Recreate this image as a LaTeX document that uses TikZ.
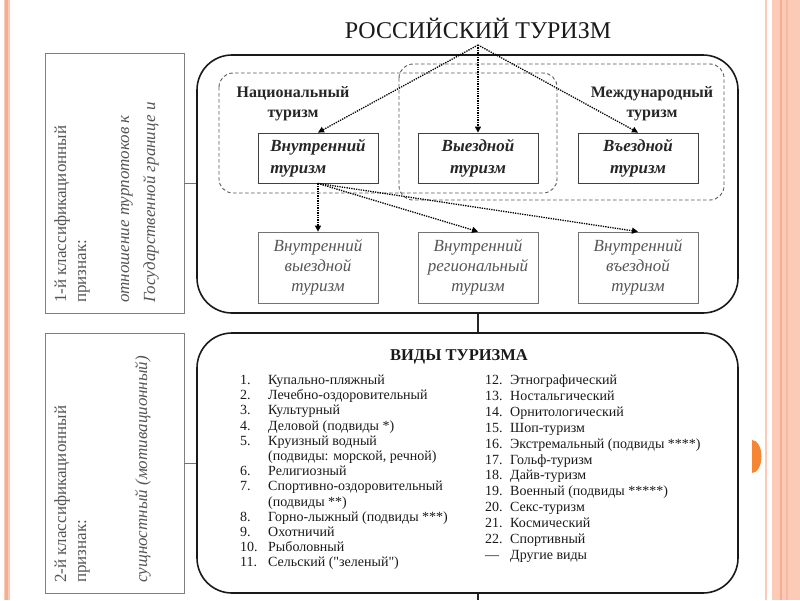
\documentclass[tikz,border=0pt]{standalone}
\usepackage{fontspec}
\setmainfont{Liberation Serif}
\newfontfamily\rawserif{Liberation Serif}
\usetikzlibrary{arrows.meta,calc}

\definecolor{stripe}{HTML}{FCCBB8}
\definecolor{stripedark}{HTML}{F4AE92}
\definecolor{tab}{HTML}{F58634}
\definecolor{inkgray}{HTML}{555555}

\newcommand{\straightq}{{\rawserif"}}

\tikzset{
  bigbox/.style={draw=black!90, line width=1.6pt, rounded corners=35pt, inner sep=0pt},
  critbox/.style={draw=black!50, line width=0.8pt, inner sep=0pt, minimum width=139pt, minimum height=260pt},
  groupbox/.style={draw=black!65, line width=0.9pt, dash pattern=on 3.5pt off 2.5pt, rounded corners=14pt},
  grouplabel/.style={align=center, inner sep=0pt, text=black!85, font=\fontsize{16}{20}\selectfont\bfseries},
  typebox/.style={draw=black!75, line width=0.9pt, minimum width=120pt, minimum height=50pt, inner sep=0pt, text=black!85, font=\fontsize{17}{22}\selectfont\bfseries\itshape},
  subbox/.style={draw=black!55, line width=0.8pt, minimum width=120pt, minimum height=71pt, inner sep=0pt, align=center, text=inkgray, font=\fontsize{17}{20}\selectfont\itshape},
  flow/.style={line width=1.3pt, dash pattern=on 1.3pt off 1.1pt, -{Triangle[length=6pt,width=6pt]}},
  crittext/.style={rotate=90, anchor=west, inner sep=0pt, text=inkgray, font=\fontsize{17}{20}\selectfont},
  critnote/.style={crittext, font=\fontsize{17}{20}\selectfont\itshape},
  listtext/.style={anchor=base west, inner sep=0pt, text=black!90, font=\fontsize{14}{16}\selectfont},
  link/.style={draw=black!55, line width=0.8pt}
}

\begin{document}
\begin{tikzpicture}[x=1pt,y=-1pt]
    \useasboundingbox (0,0) rectangle (800,600);
    % slide frame
    \fill[stripe] (3.5,0) rectangle (9.5,600);
    \fill[stripedark] (5,0) rectangle (8,600);
    \fill[stripe] (764.5,0) rectangle (767,600);
    \fill[stripe] (772,0) rectangle (800,600);
    \fill[stripedark] (779.5,0) rectangle (781.5,600);
    \fill[stripedark!60!stripe] (786,0) rectangle (787.5,600);
    \fill[tab] (752,440) arc[start angle=-90, end angle=90, x radius=9.5, y radius=16.5] -- cycle;

    \node[font=\fontsize{24}{26}\selectfont, text=black!90] (title) at (478,28) {РОССИЙСКИЙ ТУРИЗМ};
    \coordinate (apex) at (478,45);

    % outer frames
    \node[bigbox, minimum width=541pt, minimum height=258pt] (tourism) at (467.5,184) {};
    \node[bigbox, minimum width=541pt, minimum height=260pt] (kinds) at (467.5,463) {};
    \node[critbox] (crit1) at (114.5,183) {};
    \node[critbox] (crit2) at (114.5,463) {};

    % classification criteria, rotated
    \node[crittext] at (62,303) {1-й классификационный};
    \node[crittext] at (84,303) {признак:};
    \node[critnote] at (127,303) {отношение турпотоков к};
    \node[critnote] at (151,303) {Государственной границе и};
    \node[crittext] at (62,583) {2-й классификационный};
    \node[crittext] at (84,583) {признак:};
    \node[critnote] at (143,583) {сущностный (мотивационный)};

    % national / international groups
    \draw[groupbox] (219,73) rectangle (557,193);
    \draw[groupbox] (399,64) rectangle (724,200);
    \node[grouplabel] at (293,104) {Национальный\\туризм};
    \node[grouplabel] at (652,104) {Международный\\туризм};

    \node[typebox, align=left] (domestic) at (318,158) {Внутренний\\туризм};
    \node[typebox, align=center] (outbound) at (478,158) {Выездной\\туризм};
    \node[typebox, align=center] (inbound) at (638,158) {Въездной\\туризм};

    \node[subbox] (domout) at (318,267.5) {Внутренний\\выездной\\туризм};
    \node[subbox] (domreg) at (478,267.5) {Внутренний\\региональный\\туризм};
    \node[subbox] (domin) at (638,267.5) {Внутренний\\въездной\\туризм};

    \foreach \t in {domestic,outbound,inbound} {\draw[flow] (apex) -- (\t.north);}
    \foreach \t in {domout,domreg,domin} {\draw[flow] (domestic.south) -- (\t.north);}

    % connectors
    \draw[link] (crit1.east) -- (crit1.east -| tourism.west);
    \draw[link] (crit2.east) -- (crit2.east -| kinds.west);
    \coordinate (tail) at (478,600);
    \draw[black!85, line width=1.2pt] (apex |- tourism.south) -- (apex |- kinds.north);
    \draw[black!85, line width=1.2pt] (apex |- kinds.south) -- (tail);

    % kinds of tourism
    \node[font=\fontsize{16.5}{18}\selectfont\bfseries, text=black!90] at (459,357) {ВИДЫ ТУРИЗМА};
    \foreach \n/\t [count=\i] in {1./Купально-пляжный, 2./Лечебно-оздоровительный, 3./Культурный,
        4./{Деловой (подвиды *)}, 5./Круизный водный, {}/{(подвиды: морской, речной)}, 6./Религиозный,
        7./Спортивно-оздоровительный, {}/{(подвиды **)}, 8./{Горно-лыжный (подвиды ***)},
        9./Охотничий, 10./Рыболовный, 11./{Сельский (\straightq зеленый\straightq)}} {
      \node[listtext] at (240,{369.3+15.2*\i}) {\n};
      \node[listtext] at (268,{369.3+15.2*\i}) {\t};
    }
    \foreach \n/\t [count=\i] in {12./Этнографический, 13./Ностальгический, 14./Орнитологический,
        15./Шоп-туризм, 16./{Экстремальный (подвиды ****)}, 17./Гольф-туризм, 18./Дайв-туризм,
        19./{Военный (подвиды *****)}, 20./Секс-туризм, 21./Космический, 22./Спортивный, —/Другие виды} {
      \node[listtext] at (485,{368.6+15.9*\i}) {\n};
      \node[listtext] at (510,{368.6+15.9*\i}) {\t};
    }
\end{tikzpicture}
\end{document}
